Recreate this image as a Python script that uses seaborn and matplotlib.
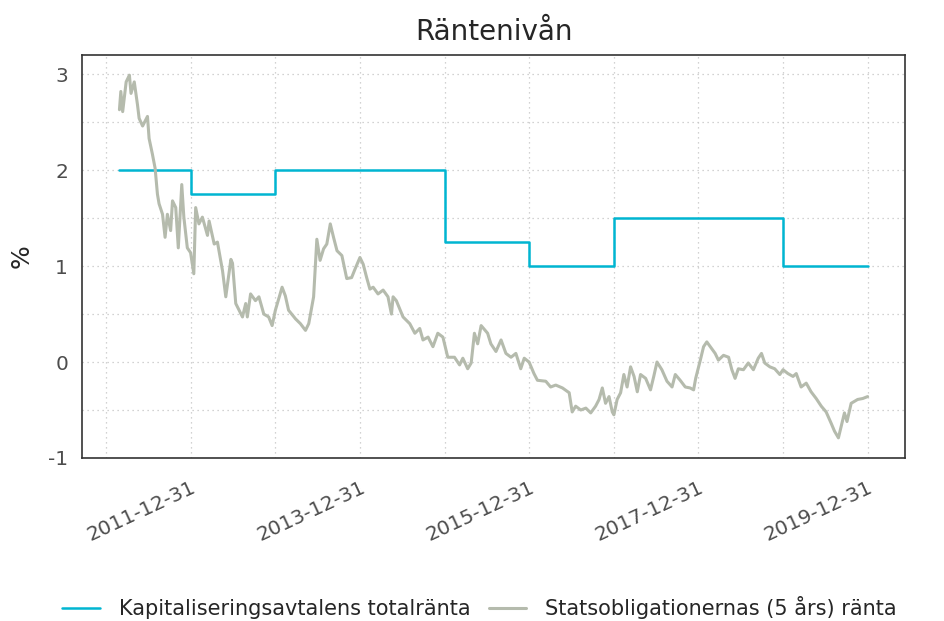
import matplotlib
matplotlib.use("Agg")
import matplotlib.pyplot as plt
import seaborn as sns
import pandas as pd

# Kapitaliseringsavtalens totalränta (step changes)
kap_dates = ["2011-02-27", "2011-12-31", "2012-12-31", "2014-12-31",
             "2015-12-31", "2016-12-31", "2018-12-31", "2019-12-31"]
kap_values = [2.0, 1.75, 2.0, 1.25, 1.0, 1.5, 1.0, 1.0]

# Statsobligationernas (5 års) ränta
bond_dates = [
    "2011-02-27", "2011-03-05", "2011-03-13", "2011-03-28", "2011-04-11", "2011-04-18",
    "2011-05-02", "2011-05-16", "2011-05-23", "2011-06-07", "2011-06-28", "2011-07-05",
    "2011-07-19", "2011-07-31", "2011-08-10", "2011-08-17", "2011-09-01", "2011-09-12",
    "2011-09-22", "2011-10-06", "2011-10-14", "2011-10-28", "2011-11-08", "2011-11-23",
    "2011-12-02", "2011-12-17", "2011-12-31", "2012-01-14", "2012-01-22", "2012-02-05",
    "2012-02-20", "2012-03-13", "2012-03-20", "2012-04-11", "2012-04-25", "2012-05-17",
    "2012-05-31", "2012-06-22", "2012-06-29", "2012-07-13", "2012-08-11", "2012-08-25",
    "2012-09-01", "2012-09-15", "2012-10-06", "2012-10-21", "2012-11-11", "2012-12-02",
    "2012-12-17", "2012-12-31", "2013-01-29", "2013-02-12", "2013-02-26", "2013-03-28",
    "2013-04-18", "2013-05-10", "2013-05-24", "2013-06-14", "2013-06-28", "2013-07-12",
    "2013-07-27", "2013-08-10", "2013-08-25", "2013-09-08", "2013-09-23", "2013-10-14",
    "2013-11-04", "2013-11-25", "2013-12-10", "2013-12-31", "2014-01-14", "2014-01-29",
    "2014-02-12", "2014-02-26", "2014-03-19", "2014-04-10", "2014-05-01", "2014-05-16",
    "2014-05-23", "2014-06-06", "2014-07-05", "2014-08-03", "2014-08-25", "2014-09-15",
    "2014-09-29", "2014-10-21", "2014-11-11", "2014-12-02", "2014-12-24", "2015-01-14",
    "2015-02-12", "2015-03-06", "2015-03-20", "2015-04-10", "2015-04-25", "2015-05-09",
    "2015-05-23", "2015-06-07", "2015-07-05", "2015-07-19", "2015-08-10", "2015-09-01",
    "2015-09-22", "2015-10-14", "2015-11-04", "2015-11-25", "2015-12-10", "2015-12-31",
    "2016-01-21", "2016-02-05", "2016-03-12", "2016-04-02", "2016-04-24", "2016-05-23",
    "2016-06-21", "2016-07-04", "2016-07-19", "2016-08-10", "2016-09-01", "2016-09-22",
    "2016-10-13", "2016-10-28", "2016-11-11", "2016-11-25", "2016-12-10", "2016-12-24",
    "2016-12-31", "2017-01-14", "2017-01-29", "2017-02-12", "2017-02-26", "2017-03-13",
    "2017-03-28", "2017-04-11", "2017-04-25", "2017-05-17", "2017-06-07", "2017-06-21",
    "2017-07-05", "2017-07-26", "2017-08-17", "2017-09-08", "2017-09-22", "2017-10-13",
    "2017-11-04", "2017-11-25", "2017-12-10", "2017-12-19", "2018-01-08", "2018-01-22",
    "2018-02-05", "2018-02-20", "2018-03-13", "2018-03-27", "2018-04-18", "2018-05-10",
    "2018-05-24", "2018-06-07", "2018-06-21", "2018-07-13", "2018-08-03", "2018-08-25",
    "2018-09-15", "2018-09-29", "2018-10-13", "2018-11-04", "2018-11-25", "2018-12-17",
    "2018-12-31", "2019-01-21", "2019-02-12", "2019-02-26", "2019-03-19", "2019-04-10",
    "2019-05-01", "2019-05-23", "2019-06-14", "2019-07-05", "2019-07-27", "2019-08-10",
    "2019-08-27", "2019-09-08", "2019-09-22", "2019-10-03", "2019-10-21", "2019-11-04",
    "2019-11-18", "2019-12-10", "2019-12-31",
]
bond_values = [
    2.63, 2.82, 2.61, 2.92, 2.99, 2.80,
    2.92, 2.68, 2.54, 2.46, 2.56, 2.33,
    2.17, 2.02, 1.75, 1.65, 1.54, 1.30,
    1.54, 1.37, 1.68, 1.61, 1.19, 1.85,
    1.51, 1.19, 1.14, 0.92, 1.61, 1.44,
    1.51, 1.32, 1.47, 1.23, 1.25, 0.95,
    0.68, 1.07, 1.03, 0.61, 0.47, 0.61,
    0.47, 0.71, 0.64, 0.68, 0.50, 0.47,
    0.38, 0.54, 0.78, 0.69, 0.54, 0.45,
    0.40, 0.33, 0.40, 0.68, 1.28, 1.06,
    1.18, 1.23, 1.44, 1.30, 1.16, 1.11,
    0.87, 0.88, 0.97, 1.09, 1.02, 0.88,
    0.76, 0.78, 0.71, 0.75, 0.68, 0.50,
    0.68, 0.64, 0.47, 0.40, 0.30, 0.35,
    0.23, 0.26, 0.16, 0.30, 0.26, 0.05,
    0.05, -0.03, 0.04, -0.07, -0.01, 0.30,
    0.19, 0.38, 0.30, 0.19, 0.11, 0.23,
    0.09, 0.05, 0.09, -0.07, 0.04, 0.00,
    -0.12, -0.19, -0.20, -0.26, -0.24, -0.27,
    -0.32, -0.52, -0.46, -0.50, -0.48, -0.53,
    -0.46, -0.39, -0.27, -0.43, -0.36, -0.52,
    -0.55, -0.39, -0.32, -0.13, -0.26, -0.05,
    -0.15, -0.31, -0.13, -0.17, -0.29, -0.15,
    0.00, -0.08, -0.20, -0.26, -0.13, -0.19,
    -0.26, -0.27, -0.29, -0.17, 0.02, 0.16,
    0.21, 0.16, 0.09, 0.02, 0.07, 0.05,
    -0.08, -0.17, -0.07, -0.08, -0.01, -0.08,
    0.04, 0.09, -0.01, -0.05, -0.07, -0.13,
    -0.08, -0.12, -0.15, -0.12, -0.26, -0.22,
    -0.31, -0.38, -0.46, -0.52, -0.64, -0.72,
    -0.79, -0.67, -0.53, -0.62, -0.43, -0.41,
    -0.39, -0.38, -0.36,
]

tick_dates = ["2011-12-31", "2013-12-31", "2015-12-31", "2017-12-31", "2019-12-31"]
minor_dates = ["2010-12-31", "2012-12-31", "2014-12-31", "2016-12-31", "2018-12-31"]
y_ticks = [-1, 0, 1, 2, 3]

kap = pd.DataFrame({"datum": pd.to_datetime(kap_dates), "ranta": kap_values})
bond = pd.DataFrame({"datum": pd.to_datetime(bond_dates), "ranta": bond_values})

sns.set_theme(style="white")
plt.rcParams["font.family"] = ["DejaVu Sans"]

fig = plt.figure(figsize=(9.45, 6.21), dpi=100)
ax = fig.add_axes([0.0868, 0.2625, 0.8709, 0.6489])

sns.lineplot(data=kap, x="datum", y="ranta", ax=ax, color="#00B5D1",
             linewidth=1.8, drawstyle="steps-post",
             label="Kapitaliseringsavtalens totalränta")
sns.lineplot(data=bond, x="datum", y="ranta", ax=ax, color="#B5BBAD",
             linewidth=2.2, label="Statsobligationernas (5 års) ränta")

ax.set_ylim(-1, 3.2)
ax.set_yticks(y_ticks)
ax.set_yticklabels([str(v) for v in y_ticks])
ax.set_yticks([-0.5, 0.5, 1.5, 2.5], minor=True)
ax.set_xticks(pd.to_datetime(tick_dates))
ax.set_xticklabels(tick_dates, rotation=25, ha="right", rotation_mode="anchor")
ax.set_xticks(pd.to_datetime(minor_dates), minor=True)

ax.grid(True, which="both", linestyle=(0, (1, 3)), color="#c4c4c4", linewidth=0.9)
ax.tick_params(axis="both", which="major", direction="out", length=5, width=1.3,
               color="#333333", labelsize=14.5, labelcolor="#4d4d4d")
ax.tick_params(axis="x", which="major", pad=9)
ax.tick_params(axis="y", which="major", pad=5)
ax.tick_params(axis="both", which="minor", length=0)
for sp in ax.spines.values():
    sp.set_color("#333333")
    sp.set_linewidth(1.2)

ax.set_xlabel("")
ax.set_ylabel("%", fontsize=18, labelpad=10)
ax.set_title("Räntenivån", fontsize=20, pad=11)

ax.legend_.remove()
handles, labels = ax.get_legend_handles_labels()
fig.legend(handles, labels, loc="center left", bbox_to_anchor=(0.066, 0.022),
           ncol=2, frameon=False, fontsize=15, handlelength=1.8,
           columnspacing=0.9, handletextpad=0.9, borderpad=0, borderaxespad=0)

fig.savefig("out.png", dpi=100)
